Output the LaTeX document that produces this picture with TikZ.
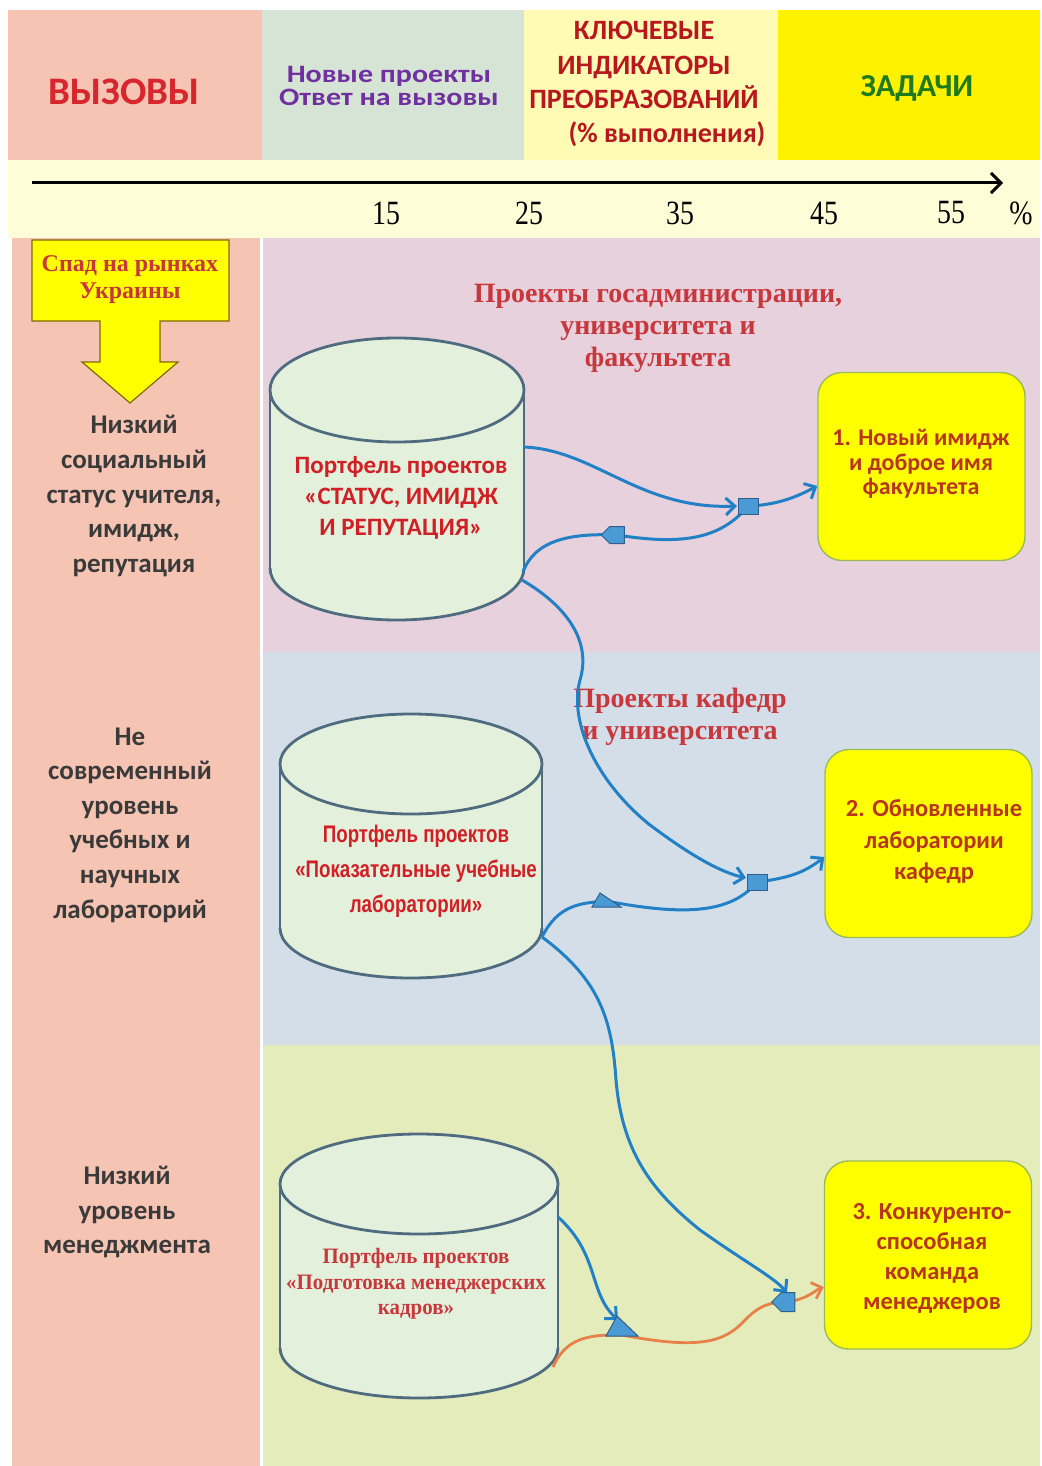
\documentclass[tikz,border=0pt]{standalone}
\usepackage{fontspec}
\setmainfont{Liberation Serif}
\newfontfamily\calfont{Carlito}
\newfontfamily\arialfont{Liberation Sans}
\usetikzlibrary{arrows.meta,shapes.geometric,shapes.symbols}
\definecolor{cpink}{HTML}{F5C4B3}
\definecolor{cgray}{HTML}{D6E4D6}
\definecolor{clyel}{HTML}{FFFBB5}
\definecolor{cyel}{HTML}{FFF200}
\definecolor{ccream}{HTML}{FFFDD8}
\definecolor{csecA}{HTML}{E6D1DD}
\definecolor{csecB}{HTML}{D4DEE8}
\definecolor{csecC}{HTML}{E5ECBC}
\definecolor{cylfill}{HTML}{E3F1DC}
\definecolor{cylline}{HTML}{4F6B80}
\definecolor{goalfill}{HTML}{FFFF00}
\definecolor{goalline}{HTML}{9BBB59}
\definecolor{connblue}{HTML}{2281C6}
\definecolor{markfill}{HTML}{4A9BD5}
\definecolor{markline}{HTML}{2F5F8A}
\definecolor{corange}{HTML}{E8804A}
\definecolor{tred}{HTML}{D8262E}
\definecolor{tpurple}{HTML}{7030A0}
\definecolor{tdred}{HTML}{B8171D}
\definecolor{tgreen}{HTML}{1F7A1F}
\definecolor{tgray}{HTML}{3A3A3A}
\definecolor{tsec}{HTML}{C8373B}
\definecolor{tcyl}{HTML}{D11F26}
\definecolor{tgoal}{HTML}{B8351A}
\definecolor{arrowline}{HTML}{7F6A00}
\newcommand\mycyl[5]{%
 \pgfmathsetmacro\cxx{(#1+#2)/2}%
 \pgfmathsetmacro\caa{(#2-#1)/2}%
 \pgfmathsetmacro\ctt{#3+#5}%
 \pgfmathsetmacro\cbb{#4-#5}%
 \fill[cylfill] (#1,\ctt) rectangle (#2,\cbb);
 \fill[cylfill] (\cxx,\cbb) ellipse [x radius=\caa, y radius=#5];
 \fill[cylfill] (\cxx,\ctt) ellipse [x radius=\caa, y radius=#5];
 \draw[cylstroke] (\cxx,\ctt) ellipse [x radius=\caa, y radius=#5];
 \draw[cylstroke] (#1,\ctt) -- (#1,\cbb);
 \draw[cylstroke] (#2,\ctt) -- (#2,\cbb);
 \begin{scope}
 \clip (#1-5,\cbb) rectangle (#2+5,#4+5);
 \draw[cylstroke] (\cxx,\cbb) ellipse [x radius=\caa, y radius=#5];
 \end{scope}
}
\tikzset{
 cylstroke/.style={draw=cylline, line width=2.8pt},
 hdr/.style={align=center, inner sep=0pt, font=\calfont\bfseries},
 numlab/.style={inner sep=0pt, font=\fontsize{34}{34}\selectfont, xscale=0.82},
 lefttxt/.style={align=center, inner sep=0pt, text=tgray, font=\calfont\bfseries\fontsize{27}{34.6}\selectfont},
 seclab/.style={align=center, inner sep=0pt, text=tsec, font=\bfseries\fontsize{28}{32}\selectfont},
 goalbox/.style={draw=goalline, line width=1.4pt, fill=goalfill, rounded corners=24pt, minimum width=207pt, minimum height=188pt, inner sep=0pt},
 goaltxt/.style={align=center, text=tgoal, inner sep=0pt},
 conn/.style={draw=connblue, line width=3pt},
 oconn/.style={draw=corange, line width=2.8pt},
 tipb/.style={-{Straight Barb[length=9pt,width=17pt]}},
 marker/.style={draw=markline, fill=markfill, line width=1pt},
 jsq/.style={marker, minimum width=20pt, minimum height=16pt, inner sep=0pt},
 jpent/.style={marker, signal, signal to=west, minimum width=23pt, minimum height=17pt, inner sep=0pt},
}
\begin{document}
\begin{tikzpicture}[x=1pt,y=-1pt]
\useasboundingbox (0,0) rectangle (1041,1466);
\fill[white] (0,0) rectangle (1041,1466);
% header
\fill[cpink] (8,10) rectangle (262,160);
\fill[cgray] (262,10) rectangle (524,160);
\fill[clyel] (524,10) rectangle (778,160);
\fill[cyel] (778,10) rectangle (1040,160);
\fill[ccream] (8,160) rectangle (1040,238);
% columns / sections
\fill[cpink] (12,238) rectangle (260,1466);
\fill[csecA] (263,238) rectangle (1040,652);
\fill[csecB] (263,652) rectangle (1040,1045);
\fill[csecC] (263,1045) rectangle (1040,1466);
% header texts
\node[hdr, text=tred, font=\calfont\bfseries\fontsize{39}{39}\selectfont] (hvyz) at (124,92) {ВЫЗОВЫ};
\node[hdr, text=tpurple, xscale=1.2, font=\calfont\bfseries\fontsize{25}{23}\selectfont] (hnew) at (389,86) {Новые проекты\\Ответ на вызовы};
\node[hdr, text=tdred, font=\calfont\bfseries\fontsize{28}{34.7}\selectfont] (hkey) at (644,65) {КЛЮЧЕВЫЕ\\ИНДИКАТОРЫ\\ПРЕОБРАЗОВАНИЙ};
\node[hdr, text=tdred, font=\calfont\bfseries\fontsize{28}{34.7}\selectfont] (hpct) at (667,134) {(\% выполнения)};
\node[hdr, text=tgreen, font=\calfont\bfseries\fontsize{32}{32}\selectfont] (hzad) at (917,88) {ЗАДАЧИ};
% axis
\coordinate (axs) at (32,183);
\coordinate (axe) at (1003,183);
\draw[line width=3pt, -{Straight Barb[length=10pt,width=20pt]}] (axs) -- (axe);
\node[numlab] (n15) at (386,213) {15};
\node[numlab] (n25) at (529,213) {25};
\node[numlab] (n35) at (680,213) {35};
\node[numlab] (n45) at (824,213) {45};
\node[numlab] (n55) at (951,213) {55};
\node[numlab] (npc) at (1021,213) {\%};
% yellow arrow
\filldraw[fill=goalfill, draw=arrowline, line width=1.2pt] (32,240) -- (229,240) -- (229,321) -- (160,321) -- (160,362) -- (178,362) -- (130,403) -- (82,362) -- (100,362) -- (100,321) -- (32,321) -- cycle;
\node[inner sep=0pt, align=center, text=tsec, font=\bfseries\fontsize{24}{27}\selectfont] (spad) at (130,280) {Спад на рынках\\Украины};
% left texts
\node[lefttxt] (lt1) at (134,496) {Низкий\\социальный\\статус учителя,\\имидж,\\репутация};
\node[lefttxt] (lt2) at (130,825) {Не\\современный\\уровень\\учебных и\\научных\\лабораторий};
\node[lefttxt] (lt3) at (127,1212) {Низкий\\уровень\\менеджмента};
% section labels
\node[seclab] (sl1) at (658,328) {Проекты госадминистрации,\\университета и\\факультета};
\node[seclab] (sl2) at (680,717) {Проекты кафедр\\и университета};
% cylinders
\mycyl{270}{524}{338}{620}{52}
\mycyl{280}{542}{714}{978}{50}
\mycyl{280}{558}{1134}{1398}{50}
\node[inner sep=0pt, align=center, text=tcyl, font=\calfont\bfseries\fontsize{25}{31}\selectfont] (cyl1) at (401,498) {Портфель проектов\\«СТАТУС, ИМИДЖ\\И РЕПУТАЦИЯ»};
\node[inner sep=0pt, align=center, text=tcyl, xscale=0.78, font=\arialfont\bfseries\fontsize{24}{35}\selectfont] (cyl2) at (416,871) {Портфель проектов\\«Показательные учебные\\лаборатории»};
\node[inner sep=0pt, align=center, text=tsec, xscale=0.95, font=\bfseries\fontsize{22}{25.5}\selectfont] (cyl3) at (416,1284) {Портфель проектов\\«Подготовка менеджерских\\кадров»};
% goal boxes
\node[goalbox] (g1) at (921.5,466.5) {};
\node[goaltxt, font=\calfont\bfseries\fontsize{24}{24.5}\selectfont] (g1t) at (921,464) {1. Новый имидж\\и доброе имя\\факультета};
\node[goalbox] (g2) at (928.5,843.5) {};
\node[goaltxt, font=\calfont\bfseries\fontsize{24.5}{31.5}\selectfont] (g2t) at (934,842) {2. Обновленные\\лаборатории\\кафедр};
\node[goalbox] (g3) at (928,1255) {};
\node[goaltxt, font=\calfont\bfseries\fontsize{24.5}{30}\selectfont] (g3t) at (932,1258) {3. Конкуренто-\\способная\\команда\\менеджеров};
% connector endpoints on cylinders
\coordinate (c1a) at (524,447);
\coordinate (c1b) at (523,572);
\coordinate (c1c) at (522,580);
\coordinate (c2a) at (542,937);
\coordinate (c3a) at (558,1217);
\coordinate (c3b) at (553,1367);
% marker positions
\coordinate (j1p) at (748,506);
\coordinate (p1p) at (617,535);
\coordinate (j2p) at (757,882);
\coordinate (t1p) at (606,901);
\coordinate (t2p) at (622,1327);
\coordinate (j3p) at (788,1302);
% connectors (blue)
\draw[conn] (c1b) .. controls (535,540) and (570,533) .. (p1p) .. controls (680,545) and (720,540) .. (j1p);
\draw[conn, tipb] (c1a) .. controls (595,450) and (640,510) .. (737,506);
\draw[conn, tipb] (j1p) .. controls (780,505) and (800,495) .. (g1.west |- 0,486);
\draw[conn, tipb] (c1c) .. controls (565,605) and (592,640) .. (580,680) .. controls (568,725) and (600,785) .. (650,825) .. controls (690,855) and (720,872) .. (746,878);
\draw[conn] (c2a) .. controls (558,905) and (580,903) .. (t1p) .. controls (680,915) and (730,915) .. (j2p);
\draw[conn, tipb] (j2p) .. controls (790,878) and (805,872) .. (g2.west |- 0,857);
\draw[conn, tipb] (c2a) .. controls (600,980) and (612,1020) .. (616,1080) .. controls (622,1150) and (650,1190) .. (700,1230) .. controls (745,1262) and (775,1278) .. (787,1293);
\draw[conn, tipb] (c3a) .. controls (600,1255) and (588,1292) .. (618,1320);
% orange
\draw[oconn] (c3b) .. controls (565,1340) and (585,1334) .. (t2p |- 0,1335) .. controls (700,1350) and (725,1342) .. (745,1320) .. controls (760,1305) and (770,1302) .. (j3p);
\draw[oconn, tipb] (j3p) .. controls (810,1298) and (815,1290) .. (g3.west |- 0,1287);
% markers
\node[jsq] (j1) at (j1p) {};
\node[jpent] (p1) at (p1p) {};
\node[jsq] (j2) at (j2p) {};
\node[jpent, minimum height=19pt] (j3) at (j3p) {};
\filldraw[marker] ([shift={(-6,-8)}]t1p) -- ([shift={(15,6)}]t1p) -- ([shift={(-14,6)}]t1p) -- cycle;
\filldraw[marker] ([shift={(-5,-11)}]t2p) -- ([shift={(16,9)}]t2p) -- ([shift={(-16,9)}]t2p) -- cycle;
\end{tikzpicture}
\end{document}
